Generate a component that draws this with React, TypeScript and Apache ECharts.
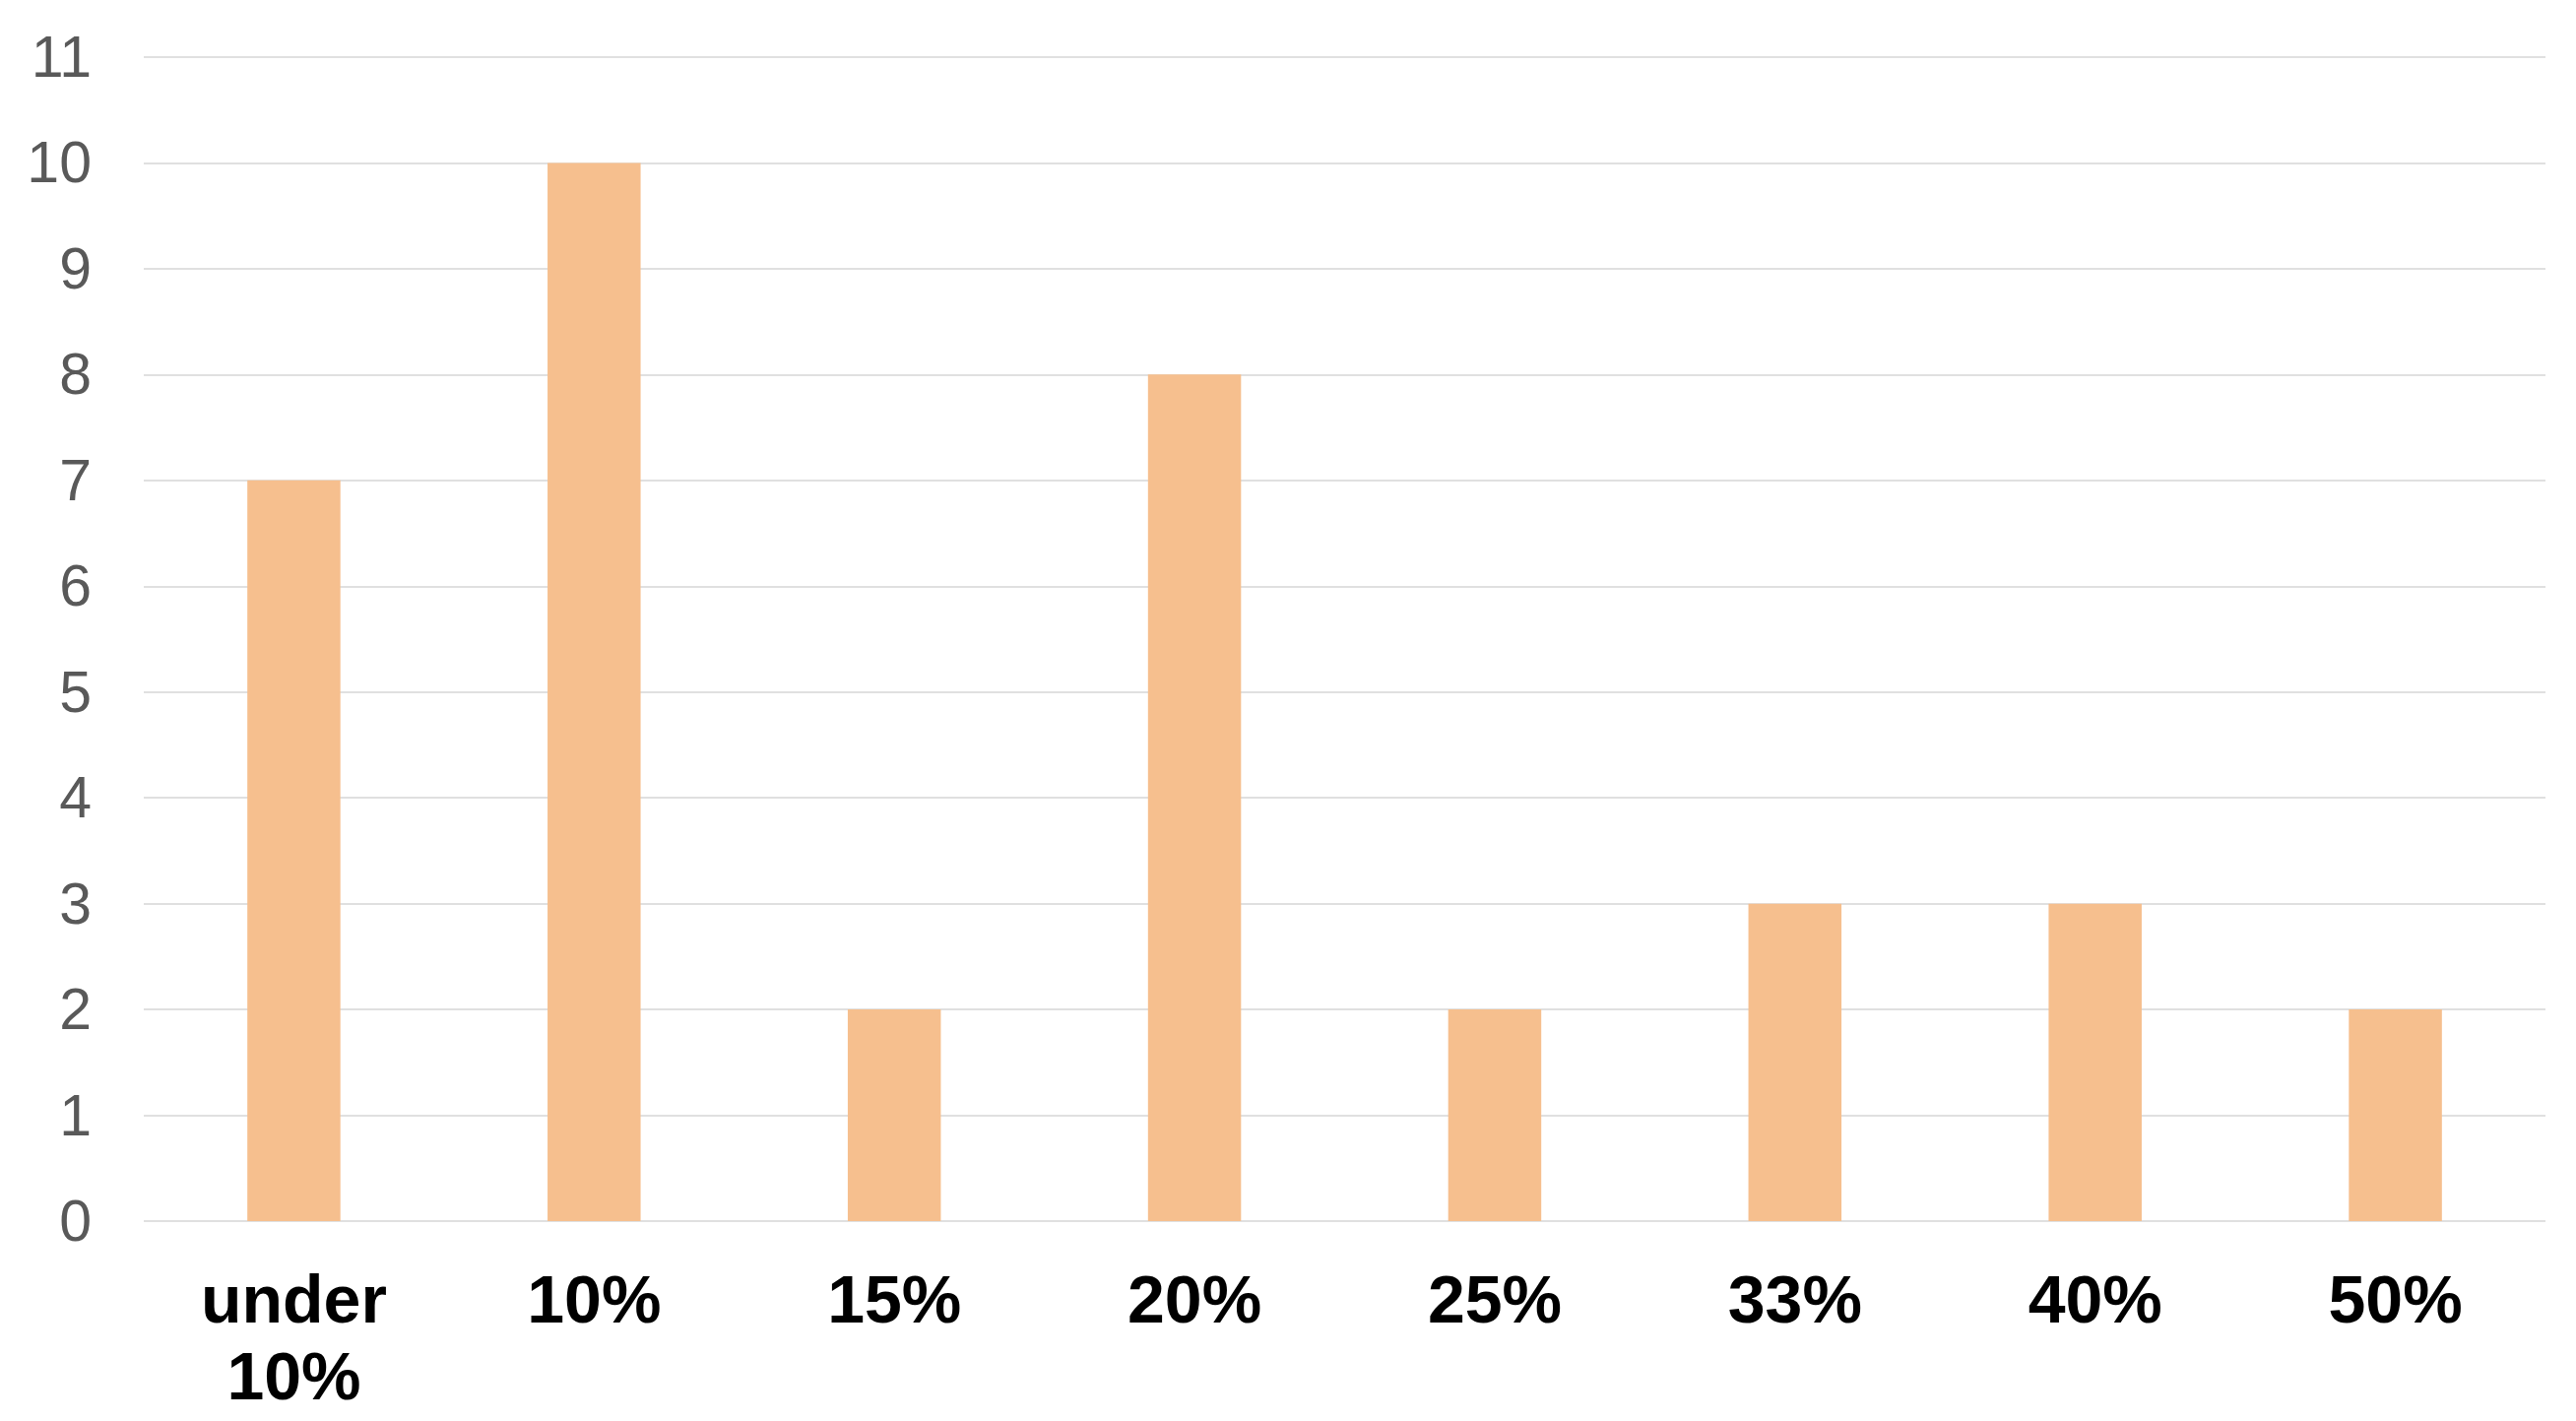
import React, { useEffect, useRef } from "react";
import * as echarts from "echarts";

const categories: string[] = ["under\n10%", "10%", "15%", "20%", "25%", "33%", "40%", "50%"];
const counts: number[] = [7, 10, 2, 8, 2, 3, 3, 2];
const yMin = 0;
const yMax = 11;
const yStep = 1;

export default function App() {
  const ref = useRef<HTMLDivElement>(null);
  useEffect(() => {
    document.body.style.margin = "0";
    if (!ref.current) return;
    const chart = echarts.init(ref.current, undefined, { renderer: "svg" });
    chart.setOption({
      animation: false,
      backgroundColor: "#ffffff",
      grid: { left: 146, right: 31, top: 58, bottom: 203, containLabel: false },
      xAxis: {
        type: "category",
        data: categories,
        axisLine: { show: false },
        axisTick: { show: false },
        axisLabel: {
          interval: 0,
          margin: 40,
          color: "#000000",
          fontSize: 68,
          fontWeight: "bold",
          fontFamily: "Liberation Sans, Arial, sans-serif",
          lineHeight: 78,
        },
      },
      yAxis: {
        type: "value",
        min: yMin,
        max: yMax,
        interval: yStep,
        axisLine: { show: false },
        axisTick: { show: false },
        splitLine: { lineStyle: { color: "#e0e0e0", width: 2 } },
        axisLabel: {
          margin: 53,
          color: "#595959",
          fontSize: 59,
          fontFamily: "Liberation Sans, Arial, sans-serif",
        },
      },
      series: [
        {
          type: "bar",
          data: counts,
          barWidth: "31%",
          itemStyle: { color: "#F6BF8E" },
        },
      ],
    });
    return () => chart.dispose();
  }, []);
  return <div ref={ref} style={{ width: 2616, height: 1443 }} />;
}
